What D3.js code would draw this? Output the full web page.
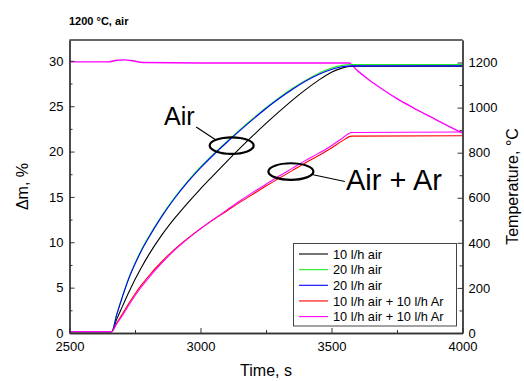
<!DOCTYPE html>
<html>
<head>
<meta charset="utf-8">
<script src="https://cdn.jsdelivr.net/npm/d3@7"></script>
<style>
  html, body { margin: 0; padding: 0; background: #fff; }
  svg { display: block; font-family: "Liberation Sans", Arial, sans-serif; }
</style>
</head>
<body>
<svg id="chart" width="524" height="381"></svg>
<script>
// Mass gain (left axis, %) sampled on a common time grid (s)
const massTime = [2500, 2661, 2680, 2700, 2725, 2750, 2775, 2800, 2850, 2900, 2950, 3000, 3050, 3100, 3150, 3200, 3250, 3300, 3350, 3400, 3450, 3500, 3540, 3577, 4000];
const air10    = [0.15, 0.15, 1.5, 2.8, 4.4, 5.9, 7.25, 8.5, 10.7, 12.6, 14.3, 15.9, 17.4, 18.9, 20.35, 21.75, 23.1, 24.4, 25.65, 26.8, 27.85, 28.75, 29.2, 29.4, 29.42];
const air20a   = [0.15, 0.15, 2.05, 3.9, 6.0, 7.7, 9.2, 10.5, 12.85, 14.9, 16.7, 18.3, 19.75, 21.1, 22.4, 23.65, 24.85, 25.95, 26.95, 27.85, 28.62, 29.2, 29.5, 29.6, 29.6];
const air20b   = [0.15, 0.15, 2.0, 3.8, 5.9, 7.6, 9.1, 10.4, 12.75, 14.8, 16.6, 18.2, 19.65, 21.0, 22.3, 23.55, 24.75, 25.85, 26.85, 27.75, 28.5, 29.05, 29.35, 29.45, 29.45];
const airAr10a = [0.15, 0.15, 1.1, 2.0, 3.2, 4.3, 5.3, 6.2, 7.8, 9.2, 10.4, 11.5, 12.5, 13.45, 14.4, 15.3, 16.2, 17.05, 17.9, 18.75, 19.55, 20.4, 21.15, 21.7, 21.75];
const airAr10b = [0.15, 0.15, 1.0, 1.85, 3.0, 4.1, 5.1, 6.0, 7.65, 9.1, 10.35, 11.5, 12.55, 13.55, 14.55, 15.5, 16.4, 17.3, 18.15, 19.0, 19.8, 20.65, 21.45, 22.1, 22.15];

// Furnace temperature (right axis, °C)
const tempTime   = [2500, 2650, 2680, 2710, 2740, 2780, 3000, 3565, 3600, 3640, 3690, 3750, 3800, 3850, 3900, 3950, 4000];
const tempValues = [1203, 1203, 1210, 1212, 1208, 1200, 1198, 1198, 1163, 1126, 1085, 1040, 1007, 976, 946, 916, 887];

const seriesNames  = ["10 l/h air", "20 l/h air", "20 l/h air", "10 l/h air + 10 l/h Ar", "10 l/h air + 10 l/h Ar"];
const seriesValues = [air10, air20a, air20b, airAr10a, airAr10b];
const seriesColors = ["#000000", "#22ee22", "#0000ff", "#ff0000", "#ff00ff"];

const xTicks = [2500, 3000, 3500, 4000];
const yTicks = [0, 5, 10, 15, 20, 25, 30];
const tTicks = [0, 200, 400, 600, 800, 1000, 1200];

// Callout ellipses: [time, mass %]
const airMark   = [3119, 20.66];
const airArMark = [3345, 17.8];

const svg = d3.select("#chart");
const L = 69.5, R = 462.5, T = 40, B = 333;
const font = '"Liberation Sans", Arial, sans-serif';

const x  = d3.scaleLinear().domain([2500, 4000]).range([L, R]);
const y  = d3.scaleLinear().domain([0, 32.3]).range([B, T]);
const yT = d3.scaleLinear().domain([0, 1300]).range([B, T]);

svg.append("defs").append("clipPath").attr("id", "plot")
  .append("rect").attr("x", L).attr("y", T).attr("width", R - L).attr("height", B - T);

const plot = svg.append("g").attr("clip-path", "url(#plot)");

// temperature trace
const tLine = d3.line().curve(d3.curveMonotoneX)
  .x((d, i) => x(tempTime[i])).y(d => yT(d));
plot.append("path").attr("d", tLine(tempValues))
  .attr("fill", "none").attr("stroke", "#ff00ff").attr("stroke-width", 1.4);

// mass traces
const mLine = d3.line().curve(d3.curveMonotoneX)
  .x((d, i) => x(massTime[i])).y(d => y(d));
seriesValues.forEach((vals, k) => {
  plot.append("path").attr("d", mLine(vals))
    .attr("fill", "none").attr("stroke", seriesColors[k]).attr("stroke-width", 1.1);
});

// axes
const axisColor = "#333";
function styleAxis(g) {
  g.selectAll(".domain").attr("stroke", axisColor).attr("stroke-width", 1.3);
  g.selectAll(".tick line").attr("stroke", axisColor).attr("stroke-width", 1);
  g.selectAll("text").attr("font-family", font).attr("font-size", 13).attr("fill", "#000");
}

const minorX = d3.range(2750, 4000, 500);
const minorY = d3.range(2.5, 32, 5);
const minorT = d3.range(100, 1300, 200);
const fmt = d3.format("d");

svg.append("g").attr("transform", `translate(0,${B})`)
  .call(d3.axisBottom(x).tickValues(minorX).tickSize(-3).tickSizeOuter(0).tickFormat(""))
  .call(styleAxis);
svg.append("g").attr("transform", `translate(0,${B})`)
  .call(d3.axisBottom(x).tickValues(xTicks).tickSize(-5).tickSizeOuter(0).tickPadding(9).tickFormat(fmt))
  .call(styleAxis);

svg.append("g").attr("transform", `translate(${L},0)`)
  .call(d3.axisLeft(y).tickValues(minorY).tickSize(-3).tickSizeOuter(0).tickFormat(""))
  .call(styleAxis);
svg.append("g").attr("transform", `translate(${L},0)`)
  .call(d3.axisLeft(y).tickValues(yTicks).tickSize(-5).tickSizeOuter(0).tickPadding(6).tickFormat(fmt))
  .call(styleAxis);

svg.append("g").attr("transform", `translate(${R},0)`)
  .call(d3.axisRight(yT).tickValues(minorT).tickSize(-3).tickSizeOuter(0).tickFormat(""))
  .call(styleAxis);
svg.append("g").attr("transform", `translate(${R},0)`)
  .call(d3.axisRight(yT).tickValues(tTicks).tickSize(-5).tickSizeOuter(0).tickPadding(6).tickFormat(fmt))
  .call(styleAxis);

svg.append("line").attr("x1", L).attr("x2", R).attr("y1", T).attr("y2", T)
  .attr("stroke", axisColor).attr("stroke-width", 1.3);

// titles
svg.append("text").attr("x", 69).attr("y", 25)
  .attr("font-family", font).attr("font-size", 11).attr("font-weight", "bold")
  .text("1200 °C, air");
svg.append("text").attr("x", (L + R) / 2).attr("y", 376).attr("text-anchor", "middle")
  .attr("font-family", font).attr("font-size", 16).text("Time, s");
svg.append("text").attr("transform", `translate(28,${(T + B) / 2}) rotate(-90)`)
  .attr("text-anchor", "middle").attr("font-family", font).attr("font-size", 16).text("Δm, %");
svg.append("text").attr("transform", `translate(518,${(T + B) / 2}) rotate(-90)`)
  .attr("text-anchor", "middle").attr("font-family", font).attr("font-size", 16).text("Temperature, °C");

// callouts
const airPt = [x(airMark[0]), y(airMark[1])];
svg.append("ellipse").attr("cx", airPt[0]).attr("cy", airPt[1]).attr("rx", 22).attr("ry", 8.3)
  .attr("fill", "none").attr("stroke", "#000").attr("stroke-width", 2.2);
svg.append("line").attr("x1", airPt[0] - 16.5).attr("y1", airPt[1] - 6)
  .attr("x2", airPt[0] - 35.5).attr("y2", airPt[1] - 18.5)
  .attr("stroke", "#000").attr("stroke-width", 1.2);
svg.append("text").attr("x", 164).attr("y", 124.5)
  .attr("font-family", font).attr("font-size", 25).text("Air");

const arPt = [x(airArMark[0]), y(airArMark[1])];
svg.append("ellipse").attr("cx", arPt[0]).attr("cy", arPt[1]).attr("rx", 22.5).attr("ry", 8.3)
  .attr("fill", "none").attr("stroke", "#000").attr("stroke-width", 2.2);
svg.append("line").attr("x1", arPt[0] + 21).attr("y1", arPt[1] + 3)
  .attr("x2", arPt[0] + 54).attr("y2", arPt[1] + 10)
  .attr("stroke", "#000").attr("stroke-width", 1.2);
svg.append("text").attr("x", 346).attr("y", 190)
  .attr("font-family", font).attr("font-size", 29).text("Air + Ar");

// legend
const lg = svg.append("g");
lg.append("rect").attr("x", 293.5).attr("y", 243.5).attr("width", 163).attr("height", 82.5)
  .attr("fill", "#fff").attr("stroke", "#444").attr("stroke-width", 1);
seriesNames.forEach((name, i) => {
  const yy = 254 + i * 15.65;
  lg.append("line").attr("x1", 299).attr("x2", 328).attr("y1", yy).attr("y2", yy)
    .attr("stroke", seriesColors[i]).attr("stroke-width", 1.1);
  lg.append("text").attr("x", 333).attr("y", yy).attr("dy", "0.36em")
    .attr("font-family", font).attr("font-size", 12.8).text(name);
});
</script>
</body>
</html>
